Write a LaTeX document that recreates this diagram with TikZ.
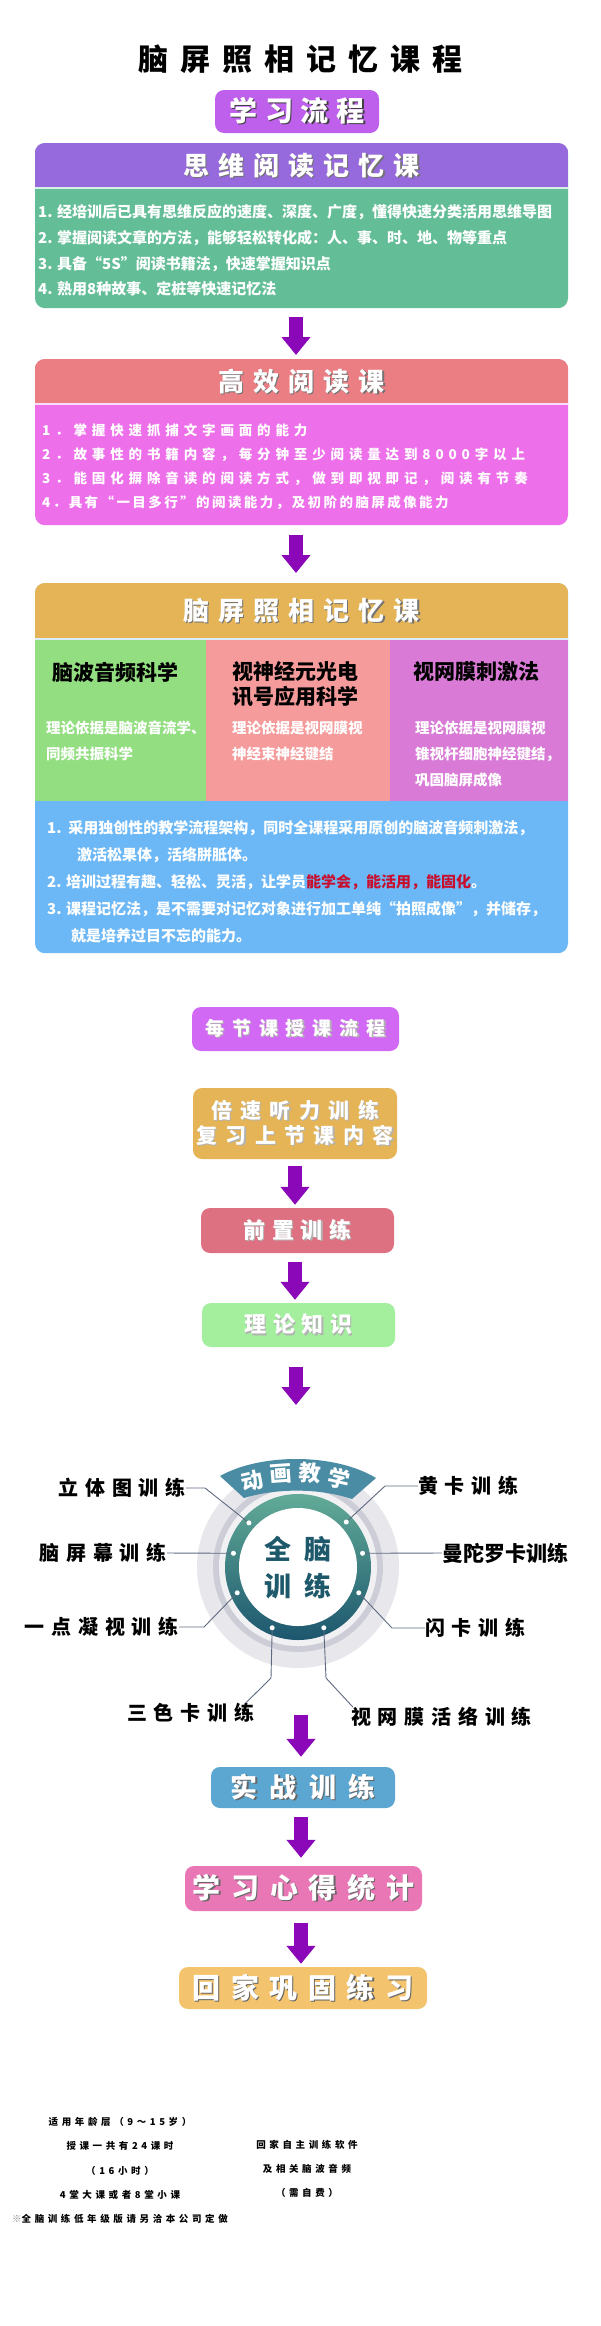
\documentclass[tikz,border=0pt]{standalone}
\usepackage{fontspec}
\setmainfont{Noto Sans CJK SC}
\usetikzlibrary{arrows.meta,positioning,calc}
\definecolor{Grape}{HTML}{8A08B8}
\definecolor{Violet}{HTML}{BE60EC}
\definecolor{Lilac}{HTML}{9669DC}
\definecolor{Mint}{HTML}{63BE97}
\definecolor{Salmon}{HTML}{EB7E83}
\definecolor{Orchid}{HTML}{ED70EA}
\definecolor{Gold}{HTML}{E4B456}
\definecolor{Leaf}{HTML}{92DE80}
\definecolor{Blush}{HTML}{F59B9B}
\definecolor{Plum}{HTML}{D87AD6}
\definecolor{Sky}{HTML}{6CB8F6}
\definecolor{Crimson}{HTML}{C8102E}
\definecolor{Mauve}{HTML}{D269F4}
\definecolor{Rose}{HTML}{DD7181}
\definecolor{Lime}{HTML}{A3EF9D}
\definecolor{Steel}{HTML}{5BA7D1}
\definecolor{Pink}{HTML}{E977B6}
\definecolor{Apricot}{HTML}{F3C46D}
\definecolor{TealTop}{HTML}{62AB97}
\definecolor{TealBot}{HTML}{1C566E}
\definecolor{Banner}{HTML}{4B8CA5}
\definecolor{HubText}{HTML}{1D586B}
\definecolor{Halo}{HTML}{E7E7EC}
\definecolor{HaloBand}{HTML}{CCCDD6}
\definecolor{HaloIn}{HTML}{F1F1F4}
\definecolor{LeadGrey}{HTML}{5F6A80}
\newcommand{\fsz}[2]{\fontsize{#1}{#2}\selectfont}
\newcommand{\trk}[1]{\addfontfeatures{LetterSpace=#1}}
\newcommand{\shd}[2][black!55]{\rlap{\kern1.3pt\raisebox{-1.3pt}{\color{#1}#2}}#2}

\begin{document}
\begin{tikzpicture}[x=1pt,y=1pt,font=\bfseries,
    card/.style={rounded corners=10pt,minimum width=533pt,inner sep=0pt,anchor=north},
    cardhead/.style={text=white,inner sep=0pt,font=\bfseries\fsz{26}{28}\trk{35}},
    rows/.style={text=white,inner sep=0pt,anchor=west,align=left},
    colhead/.style={inner sep=0pt,anchor=west,align=left,font=\bfseries\fsz{21}{25}},
    tag/.style={rounded corners=9pt,text=white,inner sep=0pt},
    flow/.style={draw=Grape,line width=14pt,-{Triangle[width=28pt,length=18pt]}},
    lead/.style={draw=LeadGrey,line width=0.9pt},
    pin/.style={circle,fill=white,inner sep=0pt,minimum size=5pt},
    ringlab/.style={inner sep=0pt,font=\bfseries\fsz{20}{22}\trk{34}},
    foot/.style={inner sep=0pt,align=center,font=\bfseries\fsz{9.5}{24.25}\trk{38}}]
  \useasboundingbox (0,0) rectangle (600,-2326);
  \fill[white] (0,0) rectangle (600,-2326);

  % heading
  \node[font=\bfseries\fsz{30}{32}\trk{40}] (title) at (300,-59) {脑屏照相记忆课程};
  \node[tag,fill=Violet,minimum width=164pt,minimum height=43pt,font=\bfseries\fsz{28}{30}\trk{28}] (steps) at (297,-111.5) {\shd[black!75]{学习流程}};

  % the three course cards
  \foreach \nm/\ty/\tall/\hd/\hc/\bc in {c1/143/165/44/Lilac/Mint,c2/359/166/44/Salmon/Orchid,c3/583/370/55/Gold/Sky}{
    \node[card,fill=\bc,minimum height=\tall] (\nm) at (301.5,-\ty) {};
    \begin{scope}
      \clip[rounded corners=10pt] (\nm.south west) rectangle (\nm.north east);
      \fill[fill=\hc] (\nm.north west) rectangle ([yshift=-\hd]\nm.north east);
      \fill[fill=white!75!\bc] ([yshift=-\hd]\nm.north west) rectangle ([yshift=-\hd-2]\nm.north east);
    \end{scope}
  }
  \node[cardhead] (c1t) at (301.5,-166) {\shd{思维阅读记忆课}};
  \node[cardhead] (c2t) at (301.5,-382) {\shd{高效阅读课}};
  \node[cardhead] (c3t) at (301.5,-611) {\shd{脑屏照相记忆课}};

  \node[rows,font=\bfseries\fsz{15}{25.7}] (c1b) at (38,-250.5) {1. 经培训后已具有思维反应的速度、深度、广度，懂得快速分类活用思维导图\\2. 掌握阅读文章的方法，能够轻松转化成：人、事、时、地、物等重点\\3. 具备“5S”阅读书籍法，快速掌握知识点\\4. 熟用8种故事、定桩等快速记忆法};
  \node[rows,font=\bfseries\fsz{13.5}{24}\trk{36}] (c2b) at (42,-467) {1．掌握快速抓捕文字画面的能力\\2．故事性的书籍内容，每分钟至少阅读量达到8000字以上\\3．能固化摒除音读的阅读方式，做到即视即记，阅读有节奏\\{\trk{18}4．具有“一目多行”的阅读能力，及初阶的脑屏成像能力}};

  % three columns of card 3
  \fill[Leaf] (35,-640) rectangle (206,-801);
  \fill[Blush] (206,-640) rectangle (390,-801);
  \fill[Plum] (390,-640) rectangle (568,-801);
  \node[colhead] (k1h) at (52,-672) {脑波音频科学};
  \node[colhead] (k2h) at (232,-684.5) {视神经元光电\\讯号应用科学};
  \node[colhead] (k3h) at (413,-672) {视网膜刺激法};
  \node[rows,font=\bfseries\fsz{14.5}{26}] (k1d) at (46,-741) {理论依据是脑波音流学、\\同频共振科学};
  \node[rows,font=\bfseries\fsz{14.5}{26}] (k2d) at (232,-741) {理论依据是视网膜视\\神经束神经键结};
  \node[rows,font=\bfseries\fsz{14.5}{26}] (k3d) at (415,-754) {理论依据是视网膜视\\锥视杆细胞神经键结，\\巩固脑屏成像};
  \node[rows,font=\bfseries\fsz{15}{27}] (c3b) at (47,-882) {1.\ \ 采用独创性的教学流程架构，同时全课程采用原创的脑波音频刺激法，\\\hspace*{30pt}激活松果体，活络胼胝体。\\2. 培训过程有趣、轻松、灵活，让学员{\color{Crimson}能学会，能活用，能固化}。\\3. 课程记忆法，是不需要对记忆对象进行加工单纯“拍照成像”，并储存，\\\hspace*{24pt}就是培养过目不忘的能力。};

  \draw[flow,shorten <=9pt,shorten >=4pt] ([xshift=-5.5pt]c1.south) -- ([xshift=-5.5pt]c2.north);
  \draw[flow,shorten <=10pt,shorten >=10pt] ([xshift=-5.5pt]c2.south) -- ([xshift=-5.5pt]c3.north);

  % lesson flow
  \node[tag,fill=Mauve,minimum width=207pt,minimum height=44pt,font=\bfseries\fsz{19}{21}\trk{42}] (lesson) at (295.5,-1029) {\shd[black!30]{每节课授课流程}};
  \node[tag,fill=Gold,minimum width=204pt,minimum height=71pt,align=center,font=\bfseries\fsz{21}{25}\trk{40}] (review) at (295,-1123.5) {\shd[black!30]{倍速听力训练}\\\shd[black!30]{复习上节课内容}};
  \node[tag,fill=Rose,minimum width=193pt,minimum height=45pt,font=\bfseries\fsz{22}{24}\trk{30}] (warmup) at (297.5,-1230.5) {\shd[black!30]{前置训练}};
  \node[tag,fill=Lime,minimum width=193pt,minimum height=44pt,font=\bfseries\fsz{22}{24}\trk{30}] (theory) at (298.5,-1325) {\shd[black!30]{理论知识}};
  \draw[flow,shorten <=7pt,shorten >=3pt] (review.south) -- (review.south |- warmup.north);
  \draw[flow,shorten <=9pt,shorten >=3pt] (review.south |- warmup.south) -- (review.south |- theory.north);
  \coordinate (a5) at (296,-1405);
  \draw[flow,shorten <=20pt] (theory.south -| a5) -- (a5);

  % whole-brain hub
  \coordinate (hub) at (298,-1567);
  \fill[Halo] (hub) circle (101);
  \fill[HaloBand] (hub) circle (85);
  \fill[HaloIn] (hub) circle (79);
  \shade[top color=TealTop,bottom color=TealBot] (hub) circle (73);
  \fill[white] (hub) circle (59);
  \fill[Banner] (220,-1476) .. controls (261,-1453) and (335,-1453) .. (376,-1478) -- (352,-1499) .. controls (319,-1488) and (277,-1488) .. (244,-1498) -- cycle;
  \foreach \ch/\px/\py/\rot [count=\k] in {动/252/1481/13,画/281/1474/4,教/310/1473/-4,学/339/1479/-13}
    \node[text=white,inner sep=0pt,rotate=\rot,font=\bfseries\fsz{22}{22}] (anim\k) at (\px,-\py) {\ch};
  \node[text=HubText,align=center,inner sep=0pt,font=\bfseries\fsz{27}{37}\trk{45}] (hubtext) at (298,-1568) {全脑\\训练};
  \foreach \a [count=\k] in {138,168,203,247,293,337,12,43}
    \node[pin] (d\k) at ($(hub)+(\a:66)$) {};

  \node[ringlab,anchor=east] (l1) at (186,-1488) {立体图训练};
  \node[ringlab,anchor=east] (l2) at (167,-1553) {脑屏幕训练};
  \node[ringlab,anchor=east] (l3) at (179,-1627) {一点凝视训练};
  \node[ringlab,anchor=west] (l4) at (127,-1713) {三色卡训练};
  \node[ringlab,anchor=west] (r1) at (418,-1486) {黄卡训练};
  \node[ringlab,anchor=west,font=\bfseries\fsz{21}{22}] (r2) at (442,-1553) {曼陀罗卡训练};
  \node[ringlab,anchor=west] (r3) at (425,-1628) {闪卡训练};
  \node[ringlab,anchor=west] (r4) at (351,-1717) {视网膜活络训练};
  \draw[lead] (l1.east) -- (205,-1488) -- (d1);
  \draw[lead] (l2.east) -- (d2);
  \draw[lead] (l3.east) -- (204,-1627) -- (d3);
  \draw[lead] (d4) -- (271,-1678) -- ([xshift=-9pt]l4.north east);
  \draw[lead] (d5) -- (326,-1678) -- ([xshift=2pt]r4.north west);
  \draw[lead] (d6) -- (392,-1628) -- (r3.west);
  \draw[lead] (d7) -- (r2.west);
  \draw[lead] (d8) -- (385,-1486) -- (r1.west);

  % practice and review
  \node[tag,fill=Steel,minimum width=184pt,minimum height=41pt,font=\bfseries\fsz{27}{29}\trk{45}] (combat) at (303,-1787.5) {\shd[black!60]{实战训练}};
  \node[tag,fill=Pink,minimum width=237pt,minimum height=45pt,font=\bfseries\fsz{28}{30}\trk{38}] (summary) at (303.5,-1888.5) {\shd[black!60]{学习心得统计}};
  \node[tag,fill=Apricot,minimum width=248pt,minimum height=42pt,font=\bfseries\fsz{28}{30}\trk{38}] (home) at (303,-1988) {\shd[black!60]{回家巩固练习}};
  \coordinate (a6) at (301,-1715);
  \draw[flow,shorten >=10pt] (a6) -- (a6 |- combat.north);
  \draw[flow,shorten <=9pt,shorten >=8pt] (a6 |- combat.south) -- (a6 |- summary.north);
  \draw[flow,shorten <=12pt,shorten >=3pt] (a6 |- summary.south) -- (a6 |- home.north);

  % notes
  \node[foot] (age) at (120,-2170.5) {适用年龄层（9～15岁）\\授课一共有24课时\\（16小时）\\4堂大课或者8堂小课\\{\color{black!45}※}全脑训练低年级版请另洽本公司定做};
  \node[foot] (soft) at (307,-2169) {回家自主训练软件\\及相关脑波音频\\（需自费）};
\end{tikzpicture}
\end{document}
